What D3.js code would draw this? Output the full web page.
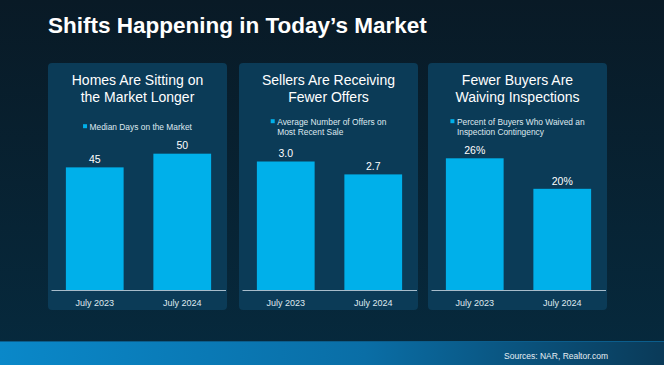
<!DOCTYPE html>
<html>
<head>
<meta charset="utf-8">
<script src="https://cdn.jsdelivr.net/npm/d3@7"></script>
<style>
  html, body { margin: 0; padding: 0; background: #081c2a; }
  svg { display: block; font-family: "Liberation Sans", Arial, sans-serif; }
</style>
</head>
<body>
<svg id="chart" width="664" height="365"></svg>
<script>
// ---- data ----
const chartTitle = "Shifts Happening in Today\u2019s Market";
const categories = ["July 2023", "July 2024"];
const daysOnMarket = [45, 50];
const offersPerSale = [3.0, 2.7];
const waivedInspection = [26, 20];
const panelTitles = [
  ["Homes Are Sitting on", "the Market Longer"],
  ["Sellers Are Receiving", "Fewer Offers"],
  ["Fewer Buyers Are", "Waiving Inspections"]
];
const legendLabels = [
  ["Median Days on the Market"],
  ["Average Number of Offers on", "Most Recent Sale"],
  ["Percent of Buyers Who Waived an", "Inspection Contingency"]
];
const axisMax = [55, 3.5, 29.6];
const valueFormats = [d3.format("d"), d3.format(".1f"), d => d + "%"];
const sourceNote = "Sources: NAR, Realtor.com";

const seriesList = [daysOnMarket, offersPerSale, waivedInspection];

// ---- drawing ----
const svg = d3.select("#chart");
const W = 664, H = 365;
const defs = svg.append("defs");

const bg = defs.append("linearGradient").attr("id", "bgGrad")
  .attr("x1", 0).attr("y1", 0).attr("x2", 0).attr("y2", 1);
bg.append("stop").attr("offset", "0%").attr("stop-color", "#091a26");
bg.append("stop").attr("offset", "100%").attr("stop-color", "#062a3e");

const ft = defs.append("linearGradient").attr("id", "footGrad")
  .attr("x1", 0).attr("y1", 0).attr("x2", 1).attr("y2", 0);
ft.append("stop").attr("offset", "0%").attr("stop-color", "#0a88c9");
ft.append("stop").attr("offset", "55%").attr("stop-color", "#0a6ea6");
ft.append("stop").attr("offset", "100%").attr("stop-color", "#0a3a58");

svg.append("rect").attr("width", W).attr("height", H).attr("fill", "url(#bgGrad)");

// footer band
svg.append("rect").attr("x", 0).attr("y", 341).attr("width", W).attr("height", H - 341)
  .attr("fill", "url(#footGrad)");
svg.append("line").attr("x1", 0).attr("x2", W).attr("y1", 341.5).attr("y2", 341.5)
  .attr("stroke", "#0b5d8c").attr("stroke-width", 1);
svg.append("text").attr("x", 608).attr("y", 359)
  .attr("text-anchor", "end").attr("fill", "#e6eef4")
  .attr("font-size", 8.5).text(sourceNote);

// title
svg.append("text").attr("x", 48).attr("y", 33)
  .attr("fill", "#ffffff").attr("font-weight", "bold")
  .attr("font-size", 22.5).text(chartTitle);

const panelXs = [48, 239, 428];
const panelW = 179, panelTop = 63, panelBottom = 310;
const baseY = 290.5, plotTop = 140;

panelXs.forEach((px, i) => {
  const g = svg.append("g");
  g.append("rect").attr("x", px).attr("y", panelTop)
    .attr("width", panelW).attr("height", panelBottom - panelTop)
    .attr("rx", 4).attr("fill", "#0b3b57");

  // panel title
  panelTitles[i].forEach((line, k) => {
    g.append("text").attr("x", px + panelW / 2).attr("y", 85 + k * 16.5)
      .attr("text-anchor", "middle").attr("fill", "#ffffff")
      .attr("font-size", 14).text(line);
  });

  // legend
  const lines = legendLabels[i];
  const fs = 8.4;
  const leg = g.append("g");
  const ly0 = lines.length === 1 ? 129.7 : 124.7;
  const texts = lines.map((line, k) =>
    leg.append("text").attr("x", 0).attr("y", ly0 + k * 10)
      .attr("fill", "#dfe9f0").attr("font-size", fs).text(line));
  const maxW = d3.max(texts, t => t.node().getComputedTextLength());
  const markW = 4, gap = 2.5;
  const totalW = markW + gap + maxW;
  const lx = px + panelW / 2 - totalW / 2;
  texts.forEach(t => t.attr("x", lx + markW + gap));
  leg.append("rect").attr("x", lx).attr("y", ly0 - 5.5)
    .attr("width", markW).attr("height", markW).attr("fill", "#00b0ea");

  // scales
  const x = d3.scaleBand().domain(categories)
    .range([px + 3, px + 178]).paddingInner(0.34).paddingOuter(0.17);
  const y = d3.scaleLinear().domain([0, axisMax[i]]).range([baseY, plotTop]);
  const data = categories.map((c, j) => ({ c, v: seriesList[i][j] }));

  g.selectAll(".bar").data(data).enter().append("rect")
    .attr("x", d => x(d.c)).attr("width", x.bandwidth())
    .attr("y", d => y(d.v)).attr("height", d => baseY - y(d.v))
    .attr("fill", "#00b0ea");

  g.selectAll(".val").data(data).enter().append("text")
    .attr("x", d => x(d.c) + x.bandwidth() / 2)
    .attr("y", d => y(d.v) - 4.3)
    .attr("text-anchor", "middle").attr("fill", "#ffffff")
    .attr("font-size", 10.5).text(d => valueFormats[i](d.v));

  // x axis
  const ax = g.append("g").attr("transform", `translate(0,${baseY})`)
    .call(d3.axisBottom(x).tickSize(0).tickPadding(9));
  ax.select(".domain").attr("stroke", "#a7bccb").attr("stroke-width", 1)
    .attr("d", `M${px + 3.5},0H${px + 178}`);
  ax.selectAll("text").attr("fill", "#dfe9f0").attr("font-size", 9)
    .attr("font-family", "\"Liberation Sans\", Arial, sans-serif");
});
</script>
</body>
</html>
